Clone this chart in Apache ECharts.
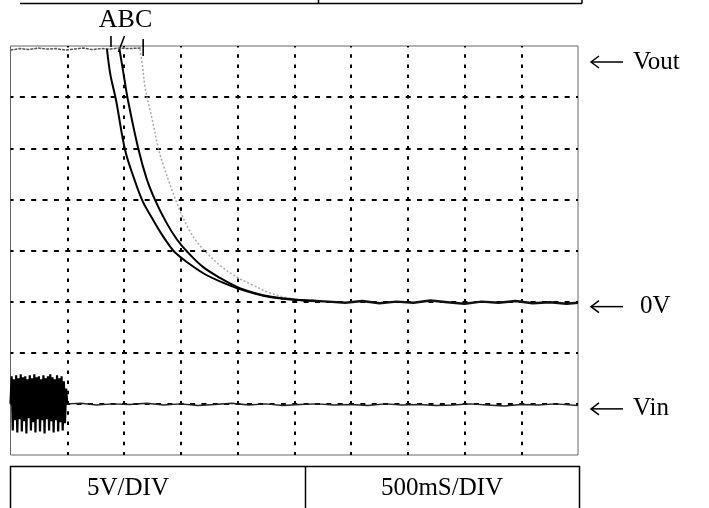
<!DOCTYPE html>
<html>
<head>
<meta charset="utf-8">
<script src="https://cdn.jsdelivr.net/npm/echarts@6/dist/echarts.min.js"></script>
<style>
  html, body { margin: 0; padding: 0; background: #fff; }
  #scope { width: 709px; height: 508px; }
</style>
</head>
<body>
<div id="scope"></div>
<script>
// Oscilloscope capture: 500 ms per division on x, 5 V per division on y.
// Times in ms, voltages in V.

// Output sitting high before the discharge begins (all three traces overlap)
const voutHigh = [[0,24.6],[80,24.75],[160,24.65],[240,24.8],[320,24.7],[400,24.75],[480,24.6],[560,24.7],[640,24.8],[720,24.65],[800,24.75],[880,24.7],[960,24.8],[1040,24.75],[1150,24.8]];

// Discharge curves A, B, C
const traceA = [[850,24.7],[880,22.2],[930,19.7],[1010,14.8],[1090,12.0],[1165,9.8],[1240,8.3],[1320,6.8],[1405,5.4],[1450,4.8],[1550,3.9],[1695,2.8],[1850,1.95],[2000,1.3],[2150,0.8],[2285,0.45],[2400,0.28],[2525,0.15],[2700,0.05]];
const traceB = [[960,24.7],[1000,22.0],[1035,19.7],[1125,15.0],[1200,12.0],[1275,9.9],[1370,7.8],[1465,6.1],[1555,4.9],[1695,3.4],[1850,2.3],[1995,1.45],[2150,0.85],[2285,0.5],[2420,0.3],[2550,0.15],[2700,0.05]];
const traceC = [[1140,24.7],[1160,23.3],[1185,21.0],[1230,18.7],[1255,17.5],[1300,15.1],[1345,13.4],[1430,10.7],[1500,8.7],[1580,6.9],[1645,5.8],[1700,5.1],[1850,3.5],[1995,2.4],[2110,1.75],[2285,0.85],[2430,0.4],[2575,0.16],[2750,0.05]];

// Settled output near 0 V
const zeroTail = [[2650,0.08],[2800,0.0],[2950,-0.1],[3100,0.05],[3250,-0.15],[3400,0.0],[3550,-0.1],[3700,0.1],[3850,-0.05],[4000,-0.2],[4150,0.0],[4300,-0.1],[4450,0.05],[4600,-0.15],[4750,-0.05],[4900,-0.2],[5000,-0.1]];

// Input channel: switching burst sampled every 10 ms, then idle level
const burstStepMs = 10;
const vinBurst = [-10.0,-7.3,-12.6,-7.6,-11.6,-7.2,-12.8,-7.5,-11.5,-7.1,-12.7,-7.4,-11.7,-7.3,-12.9,-7.6,-11.4,-7.2,-12.6,-7.5,-11.8,-7.1,-12.8,-7.4,-11.5,-7.3,-12.7,-7.6,-11.6,-7.2,-12.9,-7.5,-11.5,-7.3,-12.6,-7.1,-11.7,-7.4,-12.8,-7.6,-11.6,-7.2,-12.7,-7.5,-11.8,-7.3,-12.6,-7.8,-11.9,-8.5,-10.0];
const vinIdle = [[500,-10.0],[620,-9.95],[760,-10.1],[900,-10.0],[1050,-10.05],[1200,-9.95],[1350,-10.1],[1500,-10.0],[1650,-10.15],[1800,-10.05],[1950,-9.95],[2100,-10.1],[2250,-10.0],[2400,-10.15],[2550,-10.05],[2700,-10.0],[2850,-10.1],[3000,-10.05],[3150,-10.15],[3300,-10.0],[3450,-10.1],[3600,-10.05],[3750,-10.15],[3900,-10.1],[4050,-10.0],[4200,-10.1],[4350,-10.2],[4500,-10.05],[4650,-10.1],[4800,-10.0],[5000,-10.15]];

// Axis ranges (divisions)
const xMin = 0, xMax = 5000, xStep = 500;
const yMin = -15, yMax = 25, yStep = 5;

// Annotation texts
const curveNames = 'ABC';
const levelLabels = [
  { text: 'Vout', level: 25, dy: 16, dx: 0 },
  { text: '0V', level: 0, dy: 5, dx: 7 },
  { text: 'Vin', level: -10, dy: 5, dx: 0 }
];
const scaleTexts = ['5V/DIV', '500mS/DIV'];

const vinBurstData = vinBurst.map((v, i) => [i * burstStepMs, v]);

const chart = echarts.init(document.getElementById('scope'), null, { renderer: 'canvas' });
const serif = 'Liberation Serif';

chart.setOption({
  animation: false,
  backgroundColor: '#fff',
  grid: { left: 10.5, top: 46, width: 567.5, height: 409, show: true, borderColor: '#666', borderWidth: 1 },
  xAxis: {
    type: 'value', min: xMin, max: xMax, interval: xStep,
    axisLine: { show: false }, axisTick: { show: false }, axisLabel: { show: false },
    splitLine: { show: true, showMinLine: false, showMaxLine: false,
      lineStyle: { color: '#000', width: 2, type: [3.5, 6.7], dashOffset: 2 } }
  },
  yAxis: {
    type: 'value', min: yMin, max: yMax, interval: yStep,
    axisLine: { show: false }, axisTick: { show: false }, axisLabel: { show: false },
    splitLine: { show: true, showMinLine: false, showMaxLine: false,
      lineStyle: { color: '#000', width: 2, type: [5, 6.35], dashOffset: 2 } }
  },
  series: [
    { name: 'Vout high', type: 'line', data: voutHigh, showSymbol: false,
      lineStyle: { color: '#555', width: 1.5, type: [3, 1] } },
    { name: 'C', type: 'line', data: traceC, showSymbol: false, smooth: 0.35,
      lineStyle: { color: '#aaa', width: 1.5, type: [2, 2] } },
    { name: 'A', type: 'line', data: traceA, showSymbol: false, smooth: 0.35,
      lineStyle: { color: '#000', width: 2 } },
    { name: 'B', type: 'line', data: traceB, showSymbol: false, smooth: 0.35,
      lineStyle: { color: '#000', width: 2 } },
    { name: '0V', type: 'line', data: zeroTail, showSymbol: false,
      lineStyle: { color: '#111', width: 2.5 } },
    { name: 'Vin burst', type: 'line', data: vinBurstData, showSymbol: false,
      lineStyle: { color: '#000', width: 2.2 } },
    { name: 'Vin', type: 'line', data: vinIdle, showSymbol: false,
      lineStyle: { color: '#222', width: 1.5 } }
  ]
});

// Annotations positioned from the axis scales
const px = (t, v) => chart.convertToPixel({ gridIndex: 0 }, [t, v]);
const gridRight = px(xMax, 0)[0];
const topY = px(0, yMax)[1];

const graphics = [];

// Curve letters and pointer ticks above the knees
const aKnee = px(traceA[0][0], yMax), bKnee = px(traceB[0][0], yMax), cKnee = px(traceC[1][0], yMax);
graphics.push({ type: 'text', x: (aKnee[0] + cKnee[0]) / 2 + 1, y: topY - 13,
  style: { text: curveNames, font: '26px "' + serif + '"', fill: '#000', textAlign: 'center', textVerticalAlign: 'bottom' } });
graphics.push({ type: 'line', shape: { x1: aKnee[0] + 4, y1: topY - 10, x2: aKnee[0] + 4, y2: topY + 1 }, style: { stroke: '#000', lineWidth: 1.6 } });
graphics.push({ type: 'line', shape: { x1: bKnee[0] + 5, y1: topY - 10, x2: bKnee[0] - 1, y2: topY + 6 }, style: { stroke: '#000', lineWidth: 1.6 } });
graphics.push({ type: 'line', shape: { x1: cKnee[0] + 1, y1: topY - 7, x2: cKnee[0] + 1, y2: topY + 10 }, style: { stroke: '#000', lineWidth: 1.6 } });

// Level arrows on the right
levelLabels.forEach(l => {
  const y = px(0, l.level)[1] + l.dy;
  const x0 = gridRight + 13, x1 = gridRight + 45;
  graphics.push({ type: 'line', shape: { x1: x0, y1: y, x2: x1, y2: y }, style: { stroke: '#000', lineWidth: 1.5 } });
  graphics.push({ type: 'polyline', shape: { points: [[x0 + 8, y - 6], [x0, y], [x0 + 8, y + 6]] }, style: { stroke: '#000', lineWidth: 1.5, fill: 'none' } });
  graphics.push({ type: 'text', x: x1 + 10 + l.dx, y: y,
    style: { text: l.text, font: '25px "' + serif + '"', fill: '#000', textVerticalAlign: 'middle' } });
});

// Settings boxes: bottom (volts / time per division) and the edge of the one above
graphics.push({ type: 'rect', shape: { x: 10.5, y: 466.5, width: 569, height: 50 }, style: { stroke: '#000', lineWidth: 1.5, fill: 'none' } });
graphics.push({ type: 'line', shape: { x1: 305.5, y1: 466.5, x2: 305.5, y2: 510 }, style: { stroke: '#000', lineWidth: 1.5 } });
graphics.push({ type: 'text', x: 128, y: 488, style: { text: scaleTexts[0], font: '25px "' + serif + '"', fill: '#000', textAlign: 'center', textVerticalAlign: 'middle' } });
graphics.push({ type: 'text', x: 442, y: 488, style: { text: scaleTexts[1], font: '25px "' + serif + '"', fill: '#000', textAlign: 'center', textVerticalAlign: 'middle' } });
graphics.push({ type: 'line', shape: { x1: 20, y1: 3.5, x2: 582, y2: 3.5 }, style: { stroke: '#000', lineWidth: 1.5 } });
graphics.push({ type: 'line', shape: { x1: 318.5, y1: -2, x2: 318.5, y2: 3.5 }, style: { stroke: '#000', lineWidth: 1.5 } });
graphics.push({ type: 'line', shape: { x1: 582, y1: -2, x2: 582, y2: 3.5 }, style: { stroke: '#000', lineWidth: 1.5 } });

chart.setOption({ graphic: graphics });
</script>
</body>
</html>
